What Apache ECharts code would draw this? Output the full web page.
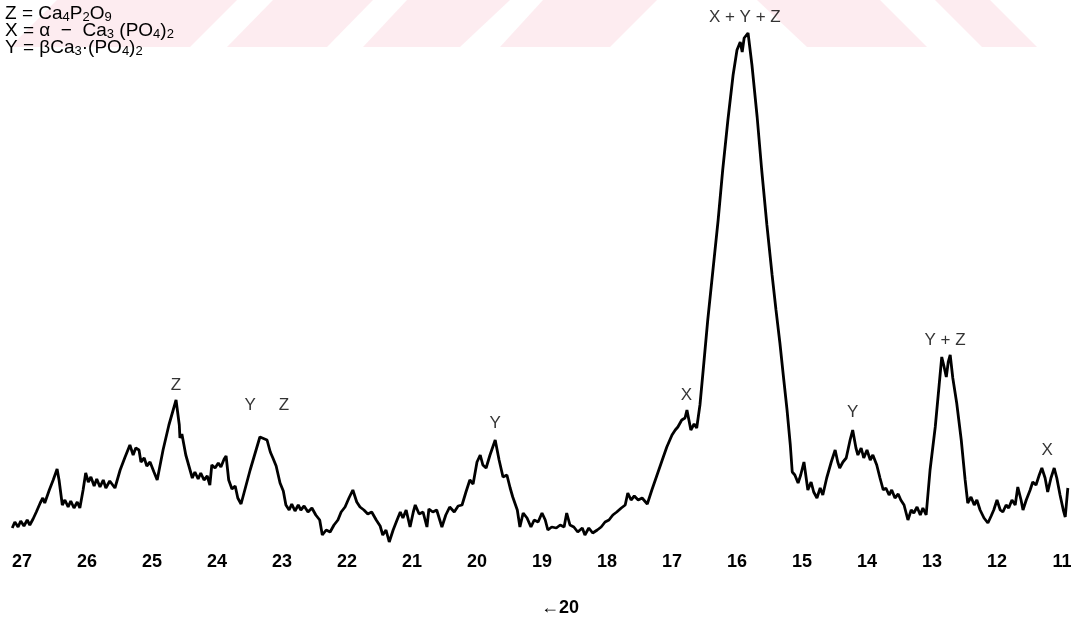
<!DOCTYPE html>
<html>
<head>
<meta charset="utf-8">
<script src="https://cdn.jsdelivr.net/npm/echarts@6/dist/echarts.min.js"></script>
<style>html,body{margin:0;padding:0;background:#fff}#c{width:1071px;height:624px}</style>
</head>
<body>
<div id="c"></div>
<script>
// 2-theta (degrees)
const twoTheta = [27.15,27.11,27.06,27.02,26.97,26.92,26.88,26.83,26.78,26.72,26.68,26.65,26.58,26.52,26.46,26.43,26.38,26.34,26.29,26.25,26.20,26.15,26.11,26.06,26.02,25.98,25.94,25.89,25.85,25.80,25.75,25.71,25.65,25.57,25.49,25.42,25.34,25.29,25.25,25.20,25.17,25.12,25.08,25.03,24.97,24.92,24.83,24.74,24.63,24.58,24.57,24.54,24.48,24.38,24.34,24.29,24.25,24.20,24.15,24.11,24.08,24.03,23.98,23.94,23.89,23.86,23.82,23.77,23.72,23.68,23.63,23.49,23.34,23.23,23.18,23.14,23.09,23.03,22.98,22.94,22.89,22.85,22.80,22.75,22.71,22.66,22.60,22.54,22.48,22.42,22.38,22.32,22.26,22.20,22.14,22.09,22.03,21.97,21.91,21.85,21.80,21.74,21.68,21.62,21.55,21.49,21.45,21.40,21.35,21.29,21.23,21.18,21.14,21.09,21.03,20.98,20.95,20.89,20.83,20.77,20.74,20.68,20.62,20.54,20.48,20.42,20.35,20.29,20.23,20.17,20.11,20.06,20.00,19.95,19.91,19.86,19.80,19.72,19.66,19.60,19.54,19.49,19.45,19.38,19.34,19.29,19.23,19.17,19.12,19.06,19.00,18.95,18.91,18.85,18.78,18.72,18.66,18.62,18.57,18.51,18.45,18.38,18.34,18.28,18.22,18.15,18.09,18.03,17.97,17.91,17.85,17.78,17.72,17.68,17.63,17.58,17.52,17.46,17.38,17.31,17.23,17.15,17.08,17.00,16.95,16.91,16.85,16.80,16.77,16.74,16.71,16.66,16.62,16.57,16.52,16.45,16.37,16.29,16.22,16.14,16.06,16.00,15.95,15.92,15.89,15.83,15.77,15.69,15.62,15.54,15.46,15.40,15.34,15.28,15.23,15.18,15.15,15.11,15.06,15.02,14.97,14.91,14.86,14.82,14.77,14.72,14.68,14.62,14.55,14.49,14.45,14.42,14.37,14.32,14.26,14.22,14.17,14.14,14.09,14.05,14.00,13.95,13.91,13.85,13.80,13.75,13.71,13.66,13.62,13.57,13.52,13.48,13.43,13.37,13.32,13.28,13.23,13.18,13.14,13.09,13.03,12.95,12.89,12.85,12.82,12.78,12.75,12.72,12.68,12.62,12.55,12.49,12.45,12.40,12.35,12.31,12.26,12.20,12.14,12.09,12.05,12.00,11.95,11.91,11.86,11.82,11.77,11.72,11.68,11.63,11.60,11.55,11.49,11.45,11.40,11.35,11.31,11.26,11.22,11.17,11.12,11.08,11.03,10.98,10.95,10.92,10.91];
// intensity (arbitrary units)
const intensity = [32,38,33,39,34,40,35,41,48,57,62,57,70,80,91,80,55,60,53,59,52,58,52,70,87,78,83,74,81,73,80,72,79,72,90,102,115,105,112,110,98,102,94,98,88,80,110,135,160,135,122,126,105,82,88,81,87,80,84,75,95,92,97,93,101,104,80,71,74,62,56,90,123,120,108,102,94,77,69,55,50,56,49,55,50,54,48,52,45,40,25,30,28,35,40,48,53,62,70,58,53,50,46,48,40,34,25,30,18,30,40,48,42,50,33,48,55,46,48,33,51,48,50,33,45,53,48,54,55,68,80,76,98,105,95,92,105,120,100,83,85,72,63,50,33,47,42,33,40,38,47,40,30,33,32,35,33,47,35,33,28,32,25,32,27,30,33,38,40,45,48,52,55,67,60,64,60,62,56,70,85,100,113,125,130,133,140,142,150,140,130,136,132,155,190,240,290,340,390,440,485,510,518,508,522,527,495,443,390,335,285,250,217,180,150,115,88,85,77,85,98,70,78,68,62,72,65,82,98,110,98,92,98,102,120,130,112,105,112,102,110,100,105,95,82,70,72,65,70,62,66,60,55,40,50,47,53,45,52,45,90,133,175,203,195,183,198,205,182,157,120,80,57,63,55,60,50,42,37,44,50,60,50,48,55,52,60,55,73,60,50,60,70,78,75,85,92,82,68,82,92,82,65,50,43,65,72];
const tickLabels = [27,26,25,24,23,22,21,20,19,18,17,16,15,14,13,12,11];
// peak annotations
const peakNames = ['Z','Y','Z','Y','X','X + Y + Z','Y','Y + Z','X'];
const peakX = [24.63,23.49,22.97,19.72,16.78,15.88,14.22,12.80,11.23];
const peakY = [175,155,155,137,165,543,148,220,110];

const chart = echarts.init(document.getElementById('c'), null, {renderer:'canvas'});
const lineData = twoTheta.map((t,i)=>[t,intensity[i]]);
const peakData = peakNames.map((n,i)=>({name:n,value:[peakX[i],peakY[i]]}));
const pink = 'rgba(252,228,234,0.7)';
const poly = (pts)=>({type:'polygon',z:-10,silent:true,shape:{points:pts},style:{fill:pink}});
chart.setOption({
  backgroundColor:'#fff',
  animation:false,
  grid:{left:9,right:2.5,top:0,bottom:79,containLabel:false,outerBoundsMode:'none'},
  xAxis:{type:'value',inverse:true,min:10.9,max:27.2,
    axisLine:{show:false},axisTick:{show:false},splitLine:{show:false},
    axisLabel:{customValues:tickLabels,margin:8,color:'#000',fontSize:18,fontWeight:'bold',fontFamily:'Liberation Sans',hideOverlap:false}},
  yAxis:{type:'value',min:15,max:560,show:false},
  graphic:[
    poly([[57,0],[237,0],[190,47],[10,47]]),
    poly([[273,0],[373,0],[327,47],[227,47]]),
    poly([[407,0],[510,0],[460,47],[363,47]]),
    poly([[543,0],[657,0],[610,47],[500,47]]),
    poly([[757,0],[880,0],[927,47],[807,47]]),
    poly([[935,0],[990,0],[1037,47],[982,47]]),
    {type:'text',left:5,top:3,z:10,style:{
      text:'{n|Z = Ca}{s|4}{n|P}{s|2}{n|O}{s|9}\n{n|X = α  −  Ca}{s|3}{n| (PO}{s|4}{n|)}{s|2}\n{n|Y = βCa}{s|3}{n|·(PO}{s|4}{n|)}{s|2}',
      rich:{
        n:{fontSize:19,fontFamily:'Liberation Sans',fill:'#000',lineHeight:17},
        s:{fontSize:13,fontFamily:'Liberation Sans',fill:'#000',lineHeight:17,padding:[8,0,0,0]}
      }}},
    {type:'text',left:541,top:599,style:{text:'←20',fontSize:18,fontWeight:'bold',fontFamily:'Liberation Sans',fill:'#000'}}
  ],
  series:[
    {type:'line',data:lineData,symbol:'none',smooth:false,
      lineStyle:{color:'#000',width:2.8},z:3},
    {type:'scatter',data:peakData,symbolSize:0,silent:true,
      label:{show:true,position:'inside',formatter:p=>p.name,color:'#000',fontSize:17,fontFamily:'Liberation Sans'},z:4}
  ]
});
</script>
</body>
</html>
